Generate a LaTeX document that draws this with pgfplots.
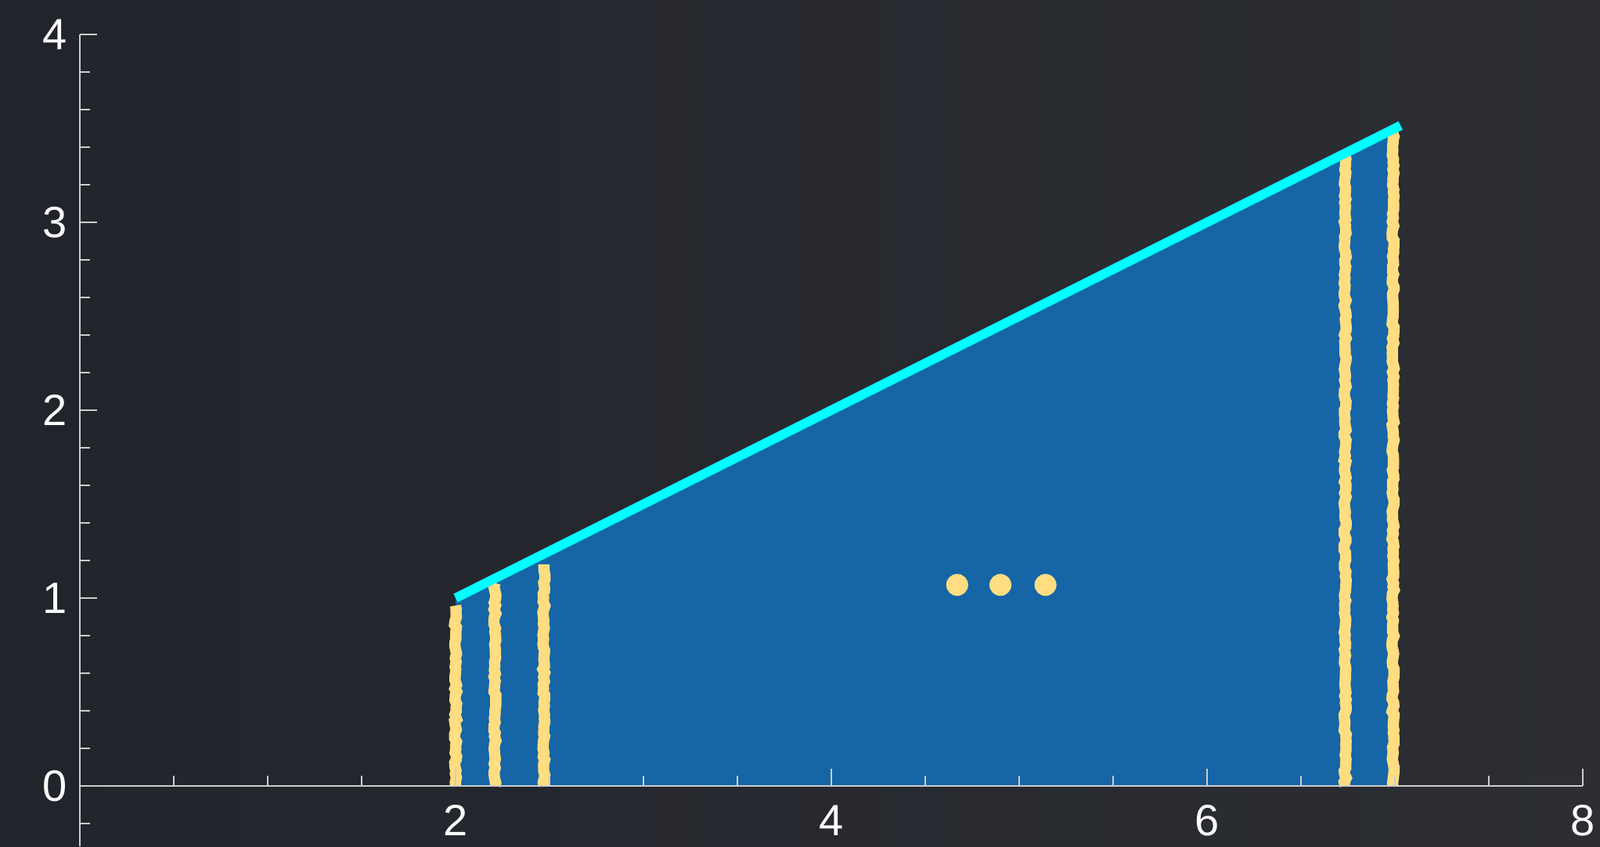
\documentclass[border=0pt]{standalone}
\usepackage{fontspec}
\setmainfont{Liberation Sans}
\usepackage{pgfplots}
\pgfplotsset{compat=1.18}
\usetikzlibrary{decorations.pathmorphing}

\definecolor{board}{RGB}{33,36,43}
\definecolor{boardlight}{RGB}{44,46,51}
\definecolor{fillblue}{RGB}{21,101,167}
\definecolor{chalk}{RGB}{255,221,128}
\definecolor{linecyan}{RGB}{0,255,255}
\definecolor{axisgray}{RGB}{205,205,205}

\begin{document}
\begin{tikzpicture}
% chalkboard, 2044x1081 px at 0.25pt per px
\path[use as bounding box, left color=board, right color=boardlight]
  (-25.5pt,-19.25pt) rectangle (485.5pt,251pt);
\begin{axis}[
  anchor=origin, at={(0pt,0pt)},
  x=60pt, y=60pt,
  xmin=0, xmax=8, ymin=-0.3208, ymax=4,
  axis x line*=middle, axis y line*=left,
  axis on top,
  axis line style={axisgray, line width=0.5pt},
  tick style={axisgray, line width=0.5pt},
  tick align=inside,
  major tick length=5.5pt, minor tick length=3.25pt,
  xtick={2,4,6,8}, ytick={0,1,2,3,4},
  minor xtick={0.5,1,1.5,2.5,3,3.5,4.5,5,5.5,6.5,7,7.5},
  minor ytick={-0.2,0.2,0.4,0.6,0.8,1.2,1.4,1.6,1.8,2.2,2.4,2.6,2.8,3.2,3.4,3.6,3.8},
  /pgf/number format/assume math mode=true,
  every tick label/.append style={font=\fontsize{14}{16}\selectfont, text=white},
  xticklabel style={yshift=-2.6pt},
  yticklabel style={xshift=-0.6pt},
]
% area under the line
\addplot[fill=fillblue, draw=none] coordinates {(2,0) (2,1) (7,3.5) (7,0) (2,0)};
% chalk strips
\addplot[ycomb, chalk, line width=3.6pt, mark=none,
  decoration={random steps, segment length=1.2pt, amplitude=0.35pt}, decorate] coordinates {
  (2.0,0.96) (2.21,1.08) (2.47,1.18) (6.735,3.35) (6.99,3.50)
};
% dots
\addplot[only marks, mark=*, mark size=3.3pt, chalk] coordinates {
  (4.67,1.07) (4.90,1.07) (5.14,1.07)
};
% the line
\addplot[linecyan, line width=3pt] coordinates {(2,1) (7.03,3.515)};
\end{axis}
\end{tikzpicture}
\end{document}
